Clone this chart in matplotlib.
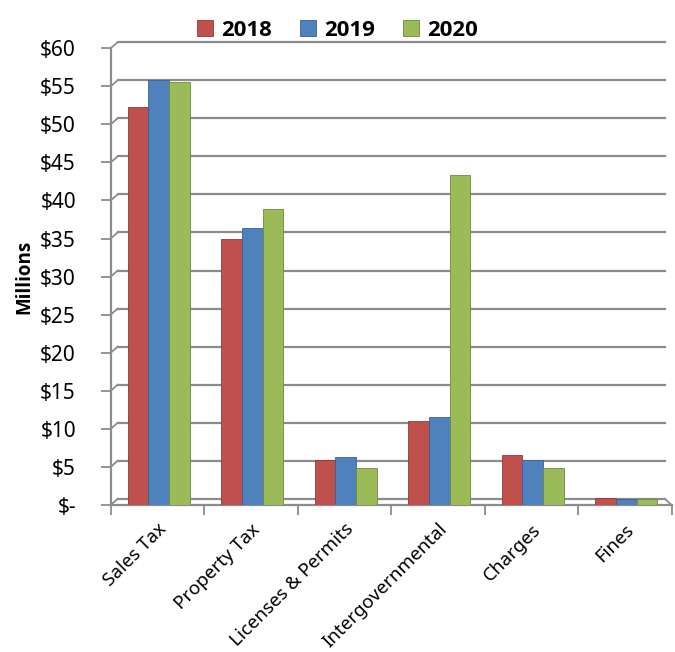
import matplotlib.pyplot as plt
import numpy as np

# revenue by source, millions of dollars
categories = ['Sales Tax', 'Property Tax', 'Licenses & Permits',
              'Intergovernmental', 'Charges', 'Fines']
years = ['2018', '2019', '2020']
rev_2018 = [52.3, 34.9, 5.9, 11.0, 6.5, 0.9]
rev_2019 = [55.8, 36.4, 6.3, 11.5, 5.9, 0.75]
rev_2020 = [55.6, 38.9, 4.9, 43.3, 4.9, 0.75]
y_ticks = [0, 5, 10, 15, 20, 25, 30, 35, 40, 45, 50, 55, 60]

colors = ['#C0504D', '#4F81BD', '#9BBB59']
edges = ['#8E3A38', '#3A6190', '#71893F']

plt.rcParams['font.family'] = ['Noto Sans', 'DejaVu Sans']
bold_font = ['Open Sans', 'Lato', 'DejaVu Sans']

fig = plt.figure(figsize=(6.75, 6.52), dpi=100)
ax = fig.add_axes([0.164, 0.2255, 0.831, 0.7005])

ax.set_xlim(0, len(categories))
ax.set_ylim(0, 60)

# back wall gridlines, shifted a little to fake the 3D look
dy = 0.8
dx = 0.0124
for v in y_ticks:
    ax.plot([dx, 0.988], [v + dy, v + dy], color='#8C8C8C', lw=1.6,
            transform=ax.get_yaxis_transform(), clip_on=False, zorder=1)
    ax.plot([0, dx], [v, v + dy], color='#8C8C8C', lw=1.3,
            transform=ax.get_yaxis_transform(), clip_on=False, zorder=1)
ax.plot([0.988, 1.0], [dy, 0], color='#8C8C8C', lw=1.3,
        transform=ax.get_yaxis_transform(), clip_on=False, zorder=1)
ax.plot([0, 1.0], [0, 0], color='#8C8C8C', lw=1.6,
        transform=ax.get_yaxis_transform(), clip_on=False, zorder=1)

x = np.arange(len(categories)) + 0.5
w = 0.222
for i, (vals, yr) in enumerate(zip([rev_2018, rev_2019, rev_2020], years)):
    ax.bar(x + (i - 1) * w + 0.015, vals, w, color=colors[i], edgecolor=edges[i],
           linewidth=0.6, label=yr, zorder=3)

ax.set_yticks(y_ticks)
ax.set_yticklabels(['$-' if v == 0 else f'${v}' for v in y_ticks], fontsize=15)
ax.set_xticks(x)
ax.set_xticklabels(categories, rotation=45, ha='right', va='top',
                   rotation_mode='anchor', fontsize=13.5)
ax.set_xticks(np.arange(len(categories) + 1), minor=True)
ax.tick_params(axis='x', which='major', length=0, pad=11)
ax.tick_params(axis='x', which='minor', length=7, width=1.3, color='#8C8C8C')
ax.tick_params(axis='y', length=7, width=1.3, color='#8C8C8C', pad=18)

for s in ['top', 'right', 'bottom']:
    ax.spines[s].set_visible(False)
ax.spines['left'].set_color('#8C8C8C')
ax.spines['left'].set_linewidth(1.6)

ax.set_ylabel('Millions', fontsize=13.5, fontweight='bold', family=bold_font, labelpad=4)

ax.legend(loc='upper center', bbox_to_anchor=(0.5, 1.0), bbox_transform=fig.transFigure,
          ncol=3, frameon=False, prop={'size': 16, 'weight': 'bold', 'family': bold_font},
          handlelength=0.7, handleheight=0.7, handletextpad=0.35, columnspacing=1.3)

fig.savefig('out.png', dpi=100)
